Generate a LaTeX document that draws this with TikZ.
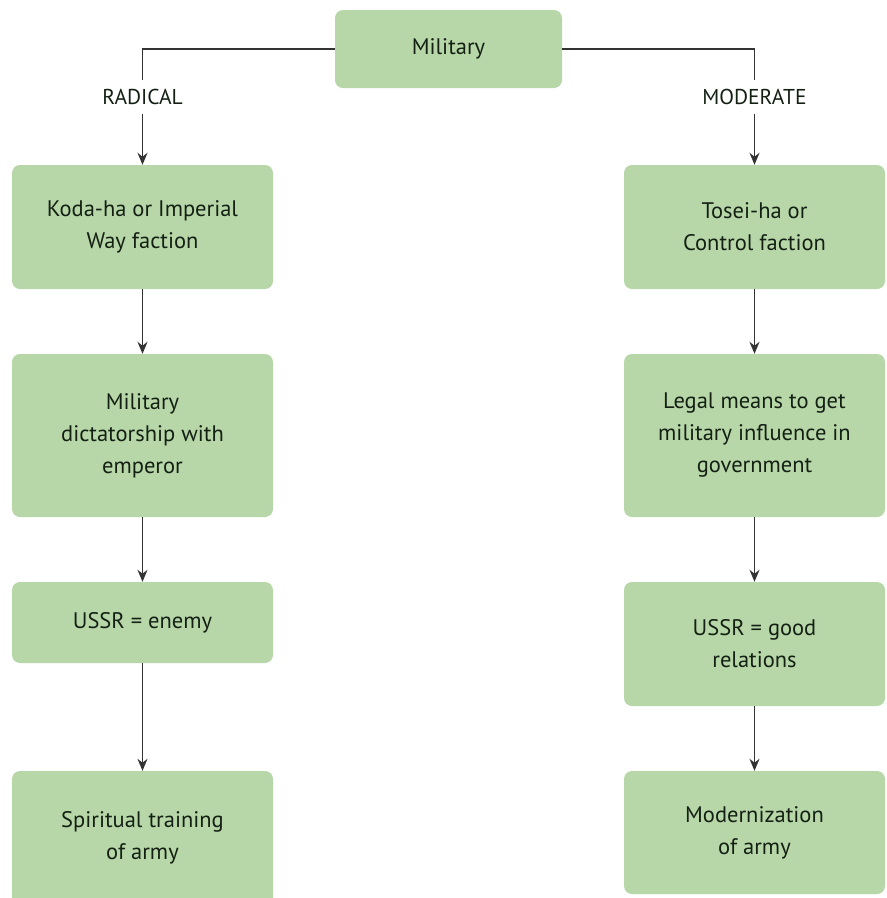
\documentclass[tikz,border=0pt]{standalone}
\usepackage{fontspec}
\setmainfont{PT Sans}
\usetikzlibrary{arrows.meta}
\definecolor{boxgreen}{HTML}{B7D7A8}
\definecolor{txt}{HTML}{142014}
\begin{document}
\begin{tikzpicture}[x=1pt,y=-1pt,
  box/.style={fill=boxgreen, rounded corners=8pt, draw=none, text=txt,
    align=center, font=\fontsize{22.5}{32}\selectfont, inner sep=0pt},
  lab/.style={text=txt, font=\fontsize{21.5}{24}\selectfont, inner xsep=2pt, inner ysep=9pt},
  conn/.style={draw=black!80, line width=1.6pt},
  arr/.style={conn, -{Stealth[length=12pt,width=10pt]}}]
\useasboundingbox (0,0) rectangle (887,898);
\fill[white] (0,0) rectangle (887,898);
% top
\node[box, minimum width=227pt, minimum height=78pt] (mil) at (448.5,49) {Military};
% left column
\node[box, minimum width=261pt, minimum height=124pt] (koda) at (142.5,227) {Koda-ha or Imperial\\Way faction};
\node[box, minimum width=261pt, minimum height=163pt] (dict) at (142.5,435.5) {Military\\dictatorship with\\emperor};
\node[box, minimum width=261pt, minimum height=81pt] (enemy) at (142.5,622.5) {USSR = enemy};
\node[box, minimum width=261pt, minimum height=140pt] (spirit) at (142.5,841) {};
\node[text=txt, align=center, font=\fontsize{22.5}{32}\selectfont] (spirittxt) at (142.5,838) {Spiritual training\\of army};
% right column
\node[box, minimum width=261pt, minimum height=124pt] (tosei) at (754.5,227) {Tosei-ha or\\Control faction};
\node[box, minimum width=261pt, minimum height=163pt] (legal) at (754.5,435.5) {Legal means to get\\military influence in\\government};
\node[box, minimum width=261pt, minimum height=124pt] (good) at (754.5,644) {USSR = good\\relations};
\node[box, minimum width=261pt, minimum height=123pt] (modern) at (754.5,832.5) {Modernization\\of army};
% labels
\node[lab] (rad) at (142.5,97) {RADICAL};
\node[lab] (mod) at (754.5,97) {MODERATE};
% connectors
\draw[conn] (mil.west) -| (rad.north);
\draw[arr] (rad.south) -- (koda.north);
\draw[conn] (mil.east) -| (mod.north);
\draw[arr] (mod.south) -- (tosei.north);
\draw[arr] (koda.south) -- (dict.north);
\draw[arr] (dict.south) -- (enemy.north);
\draw[arr] (enemy.south) -- (spirit.north);
\draw[arr] (tosei.south) -- (legal.north);
\draw[arr] (legal.south) -- (good.north);
\draw[arr] (good.south) -- (modern.north);
\end{tikzpicture}
\end{document}
